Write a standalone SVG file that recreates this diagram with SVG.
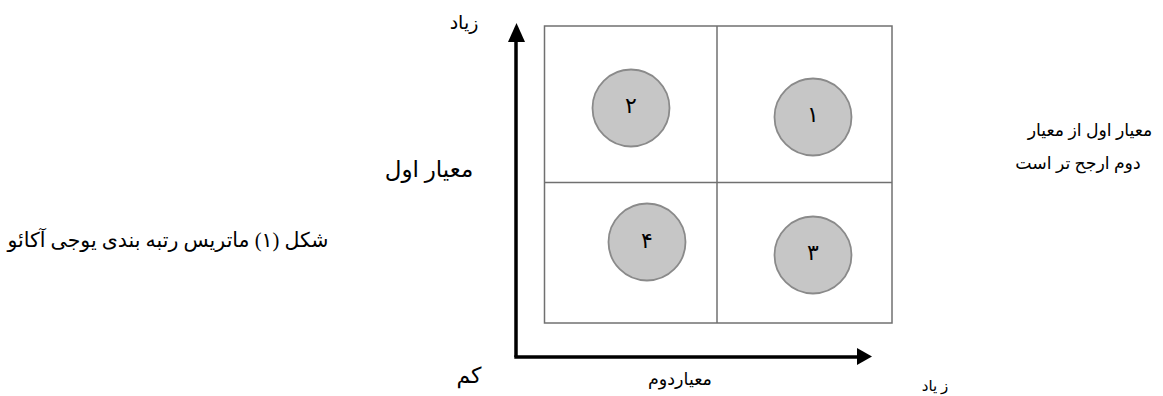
<svg xmlns="http://www.w3.org/2000/svg" width="1163" height="396" viewBox="0 0 1163 396">
<style>
.t{font-family:"Liberation Serif","DejaVu Sans",serif;fill:#000;text-anchor:middle}
.d{font-size:22px}
.grid{fill:none;stroke:#707070;stroke-width:1.5}
.c{fill:#c6c6c6;stroke:#8a8a8a;stroke-width:1.8}
.ax{stroke:#000;stroke-width:3.5;fill:none}
</style>
<rect width="1163" height="396" fill="#fff"/>
<g id="matrix">
<rect class="grid" x="544.5" y="26" width="347.5" height="297"/>
<line class="grid" x1="717" y1="26" x2="717" y2="323"/>
<line class="grid" x1="544.5" y1="182.5" x2="892" y2="182.5"/>
</g>
<g id="connectors">
<line class="ax" x1="516" y1="357" x2="516" y2="40"/>
<polygon points="516.5,23 508,42 525,42" fill="#000"/>
<line class="ax" x1="514.3" y1="357" x2="858" y2="357"/>
<polygon points="872,356.5 857,348 857,365" fill="#000"/>
</g>
<g id="node1"><circle class="c" cx="813" cy="117" r="38.5"/><text class="t d" x="813" y="122">۱</text></g>
<g id="node2"><circle class="c" cx="631" cy="108" r="38.5"/><text class="t d" x="631" y="113">۲</text></g>
<g id="node3"><circle class="c" cx="813" cy="255" r="38.5"/><text class="t d" x="813" y="260">۳</text></g>
<g id="node4"><circle class="c" cx="647" cy="242" r="38.5"/><text class="t d" x="647" y="248">۴</text></g>
<g id="labels">
<text class="t" x="464" y="29" font-size="19">زیاد</text>
<text class="t" x="429" y="177" font-size="23">معیار اول</text>
<text class="t" x="469" y="383" font-size="22">کم</text>
<text class="t" x="680" y="385" font-size="17.5">معیاردوم</text>
<text class="t" x="935" y="391" font-size="15">ز یاد</text>
<text class="t" x="168" y="247" font-size="20.5">شکل (۱) ماتریس رتبه بندی یوجی آکائو</text>
<text class="t" x="1090" y="136" font-size="17.3">معیار اول از معیار</text>
<text class="t" x="1078" y="169" font-size="17.3">دوم ارجح تر است</text>
</g>
</svg>
